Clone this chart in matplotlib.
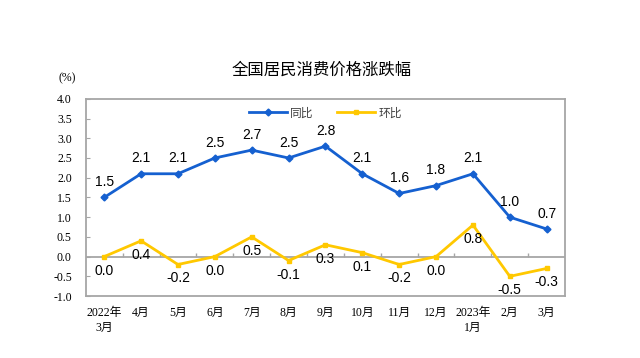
import numpy as np
import matplotlib
matplotlib.use("Agg")
import matplotlib.pyplot as plt

plt.rcParams['font.family'] = ['Liberation Sans', 'Noto Sans CJK SC']

months = ["2022年\n3月", "4月", "5月", "6月", "7月", "8月", "9月", "10月",
          "11月", "12月", "2023年\n1月", "2月", "3月"]
yoy = [1.5, 2.1, 2.1, 2.5, 2.7, 2.5, 2.8, 2.1, 1.6, 1.8, 2.1, 1.0, 0.7]
mom = [0.0, 0.4, -0.2, 0.0, 0.5, -0.1, 0.3, 0.1, -0.2, 0.0, 0.8, -0.5, -0.3]
yticks = [-1.0, -0.5, 0.0, 0.5, 1.0, 1.5, 2.0, 2.5, 3.0, 3.5, 4.0]

blue = '#1560d0'
yellow = '#ffc800'
grey = '#a6a6a6'
serif = ['Liberation Serif', 'Noto Sans CJK SC']

fig = plt.figure(figsize=(6.4, 3.58), dpi=100)
ax = fig.add_axes([0.134, 0.173, 0.749, 0.551])
x = np.arange(len(months))

ax.plot(x, yoy, color=blue, lw=2, marker='D', ms=3.5, label='同比', zorder=3)
ax.plot(x, mom, color=yellow, lw=2, marker='s', ms=3.5, label='环比', zorder=3)

for xi, v in zip(x, yoy):
    ax.annotate(f"{v:.1f}", (xi, v), xytext=(0, 6), textcoords='offset points',
                ha='center', va='bottom', fontsize=10)
for xi, v in zip(x, mom):
    ax.annotate(f"{v:.1f}", (xi, v), xytext=(0, -5), textcoords='offset points',
                ha='center', va='top', fontsize=10)

ax.set_xlim(-0.5, len(months) - 0.5)
ax.set_ylim(-1.0, 4.0)
ax.set_yticks(yticks)
ax.set_yticklabels([f"{t:.1f}" for t in yticks], family=serif, fontsize=8.5)
ax.set_xticks(x)
ax.set_xticklabels(months, family=serif, fontsize=8.5, linespacing=1.3)
ax.tick_params(axis='x', length=0, pad=8)
ax.tick_params(axis='y', direction='in', length=3, color=grey, pad=10)

for s in ax.spines.values():
    s.set_color(grey)
    s.set_linewidth(1.3)

ax.axhline(0, color=grey, lw=1.3, zorder=1)
ax.vlines(x[:-1] + 0.5, 0, 0.08, color=grey, lw=1, zorder=1)

leg = ax.legend(loc='upper center', ncol=2, frameon=False, fontsize=8.5,
                bbox_to_anchor=(0.5, 1.01), handlelength=3.2, columnspacing=2,
                handletextpad=0.3)
for t in leg.get_texts():
    t.set_color('#404040')

fig.text(0.503, 0.805, "全国居民消费价格涨跌幅", ha='center', va='center',
         fontsize=11.8, family=['Noto Sans CJK SC'])
fig.text(0.105, 0.782, "(%)", ha='center', va='center', fontsize=8.5, family=serif)

fig.savefig("out.png", dpi=100)
